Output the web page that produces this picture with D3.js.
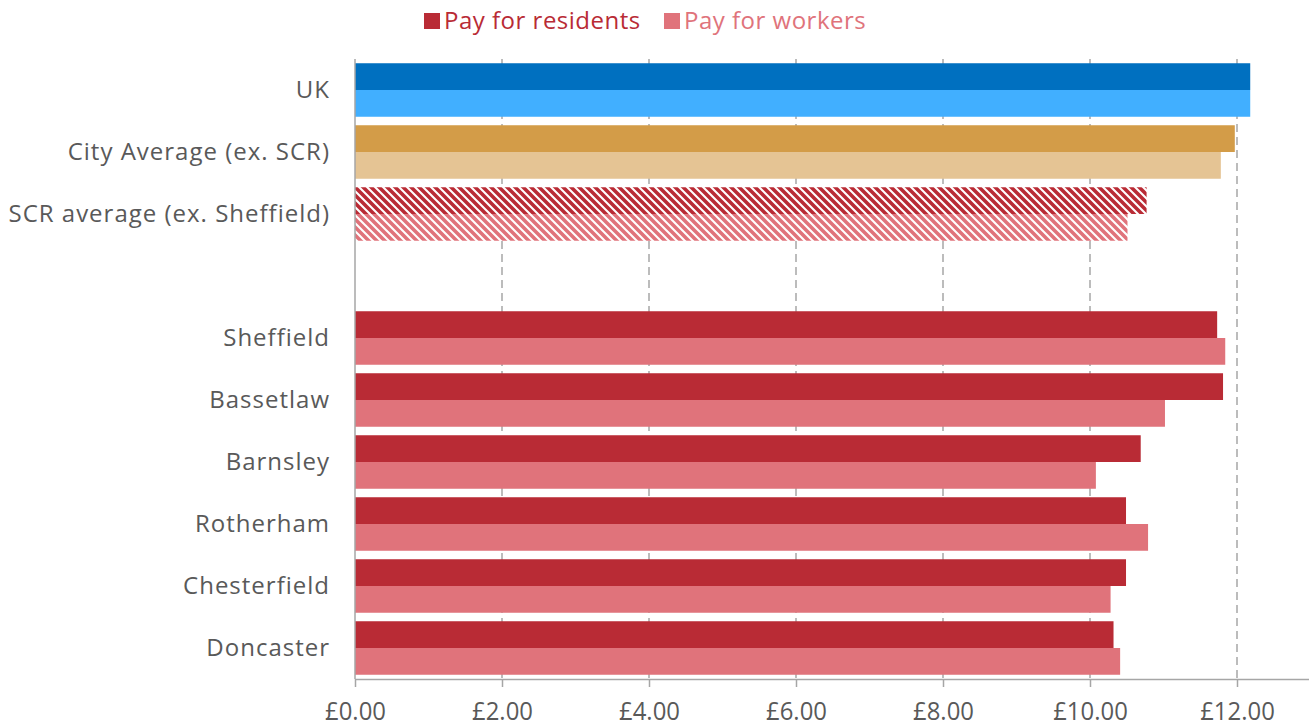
<!DOCTYPE html>
<html>
<head>
<meta charset="utf-8">
<script src="https://cdn.jsdelivr.net/npm/d3@7"></script>
<style>
  html, body { margin: 0; padding: 0; background: #fff; }
  svg { display: block; font-family: "Open Sans", "Noto Sans", sans-serif; }
</style>
</head>
<body>
<svg id="chart" width="1309" height="728"></svg>
<script>
// Hourly pay, residents vs workers
const categories = ["UK", "City Average (ex. SCR)", "SCR average (ex. Sheffield)", "",
  "Sheffield", "Bassetlaw", "Barnsley", "Rotherham", "Chesterfield", "Doncaster"];
const residentsPay = [12.18, 11.97, 10.77, null, 11.73, 11.81, 10.69, 10.49, 10.49, 10.32];
const workersPay   = [12.18, 11.78, 10.51, null, 11.84, 11.02, 10.08, 10.79, 10.28, 10.41];
const xTicks = [0, 2, 4, 6, 8, 10, 12];
const seriesNames = ["Pay for residents", "Pay for workers"];

// fills per row: [residents, workers]
const rowFills = {
  "UK": ["#0070C0", "#41AFFF"],
  "City Average (ex. SCR)": ["#D39C48", "#E5C494"],
  "SCR average (ex. Sheffield)": ["url(#hatchRes)", "url(#hatchWork)"]
};
const defaultFills = ["#B92B35", "#E0737B"];

const svg = d3.select("#chart");
const margin = { top: 59, bottom: 679 };

const x = d3.scaleLinear().domain([0, 12]).range([355, 1237]);
const y = d3.scaleBand().domain(categories).range([margin.top, margin.bottom])
  .paddingInner(0.137).paddingOuter(0.0685);
const sub = d3.scaleBand().domain([0, 1]).range([0, y.bandwidth()]);

// hatch patterns
const defs = svg.append("defs");
function hatch(id, color) {
  const p = defs.append("pattern").attr("id", id).attr("patternUnits", "userSpaceOnUse")
    .attr("width", 8).attr("height", 8);
  p.append("rect").attr("width", 8).attr("height", 8).attr("fill", "#fff");
  p.append("path").attr("d", "M-2,-2 L10,10 M-2,6 L2,10 M6,-2 L10,2")
    .attr("stroke", color).attr("stroke-width", 3.6).attr("fill", "none");
}
hatch("hatchRes", "#B92B35");
hatch("hatchWork", "#E0737B");

// dashed gridlines
svg.append("g").selectAll("line").data(xTicks.filter(d => d > 0)).join("line")
  .attr("x1", d => x(d)).attr("x2", d => x(d))
  .attr("y1", margin.top).attr("y2", margin.bottom)
  .attr("stroke", "#A6A6A6").attr("stroke-width", 1.5).attr("stroke-dasharray", "8,5");

// bars
const rows = categories.map((c, i) => ({ cat: c, vals: [residentsPay[i], workersPay[i]] }))
  .filter(r => r.cat !== "");
const g = svg.append("g");
rows.forEach(r => {
  const fills = rowFills[r.cat] || defaultFills;
  r.vals.forEach((v, k) => {
    g.append("rect")
      .attr("x", x(0))
      .attr("y", y(r.cat) + sub(k))
      .attr("width", x(v) - x(0))
      .attr("height", sub.bandwidth())
      .attr("fill", fills[k]);
  });
});

// x axis
const xAxis = svg.append("g").attr("transform", `translate(0,${margin.bottom})`)
  .call(d3.axisBottom(x).tickValues(xTicks).tickSize(8).tickFormat(d => "£" + d3.format(".2f")(d))
    .tickSizeOuter(0));
xAxis.select(".domain").attr("d", `M${x(0)},0.5H1309`).attr("stroke", "#A6A6A6").attr("stroke-width", 1.5);
xAxis.selectAll(".tick line").attr("stroke", "#A6A6A6").attr("stroke-width", 1.5);
xAxis.selectAll(".tick text").attr("fill", "#595959").attr("font-size", 26)
  .attr("font-family", "'Open Sans', 'Noto Sans', sans-serif")
  .attr("dy", 0).attr("y", 41).attr("transform", "scale(0.92,1)");

// y axis line
svg.append("line").attr("x1", x(0)).attr("x2", x(0)).attr("y1", margin.top).attr("y2", margin.bottom)
  .attr("stroke", "#A6A6A6").attr("stroke-width", 1.5);

// category labels
svg.append("g").selectAll("text").data(categories.filter(c => c !== "")).join("text")
  .attr("x", 330).attr("y", d => y(d) + y.bandwidth() / 2 + 8)
  .attr("text-anchor", "end")
  .attr("font-size", 24).attr("letter-spacing", 1).attr("fill", "#595959").text(d => d);

// legend
const legendColors = ["#B92B35", "#E0737B"];
const legendX = [424, 664];
seriesNames.forEach((name, i) => {
  svg.append("rect").attr("x", legendX[i]).attr("y", 13).attr("width", 16).attr("height", 16)
    .attr("fill", legendColors[i]);
  svg.append("text").attr("x", legendX[i] + 20).attr("y", 29)
    .attr("font-size", 24).attr("letter-spacing", 0.5).attr("fill", legendColors[i]).text(name);
});
</script>
</body>
</html>
